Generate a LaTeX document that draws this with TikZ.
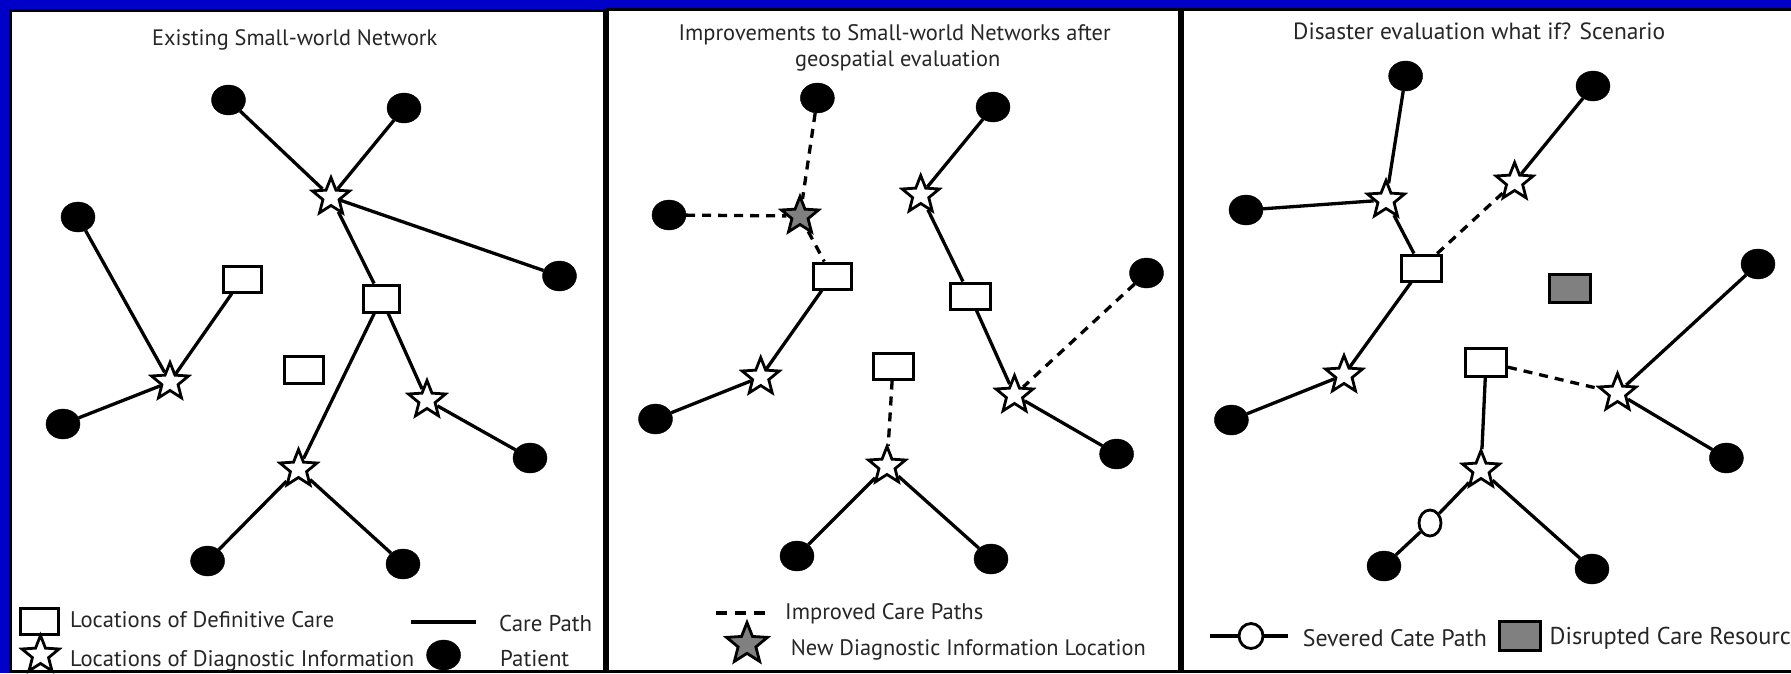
\documentclass[tikz,border=0pt]{standalone}
\usepackage{fontspec}
\setmainfont{PT Sans}
\usetikzlibrary{shapes.geometric}
\definecolor{bgblue}{RGB}{0,0,200}
\definecolor{midgray}{RGB}{128,128,128}
\newcommand{\fitto}[2]{\resizebox{#1pt}{!}{#2}}
\begin{document}
\begin{tikzpicture}[x=1pt,y=-1pt,
  patient/.style={ellipse,fill=black,draw=black,inner sep=0pt,minimum width=34pt,minimum height=30pt},
  diag/.style={star,star points=5,star point ratio=2.3,draw=black,line width=2.8pt,fill=white,inner sep=0pt,minimum size=39pt},
  newdiag/.style={diag,fill=midgray},
  care/.style={rectangle,draw=black,line width=3pt,fill=white,inner sep=0pt,minimum width=38pt,minimum height=26pt},
  disrupted/.style={care,fill=midgray},
  severed/.style={ellipse,draw=black,line width=2.8pt,fill=white,inner sep=0pt,minimum width=22pt,minimum height=26pt},
  carepath/.style={draw=black,line width=3.3pt},
  improved/.style={carepath,dash pattern=on 9pt off 7pt},
  lbl/.style={inner sep=0pt,anchor=base west,text=black!85},
  panel/.style={fill=white,draw=black,line width=3pt}]
\useasboundingbox (0,0) rectangle (1791,673);
\clip (0,0) rectangle (1791,673);
\fill[bgblue] (0,0) rectangle (1791,673);
% panels
\path[panel] (10,10) rectangle (604,671);
\path[panel] (607,9) rectangle (1179,671);
\path[panel] (1182,9) rectangle (1800,671);

% ---------------- Panel 1 ----------------
\node[lbl] (t1) at (152,45) {\fitto{285}{Existing Small-world Network}};
\node[patient] (A) at (228.5,100) {};
\node[patient] (B) at (404,108) {};
\node[diag] (S1) at (331,197) {};
\node[patient] (C) at (78,217) {};
\node[patient] (D) at (559.5,276) {};
\node[care] (R1) at (242,279) {};
\node[care,minimum width=36pt,minimum height=27pt] (R2) at (381.5,298.5) {};
\node[diag] (S2) at (170,382) {};
\node[patient] (E) at (63,424) {};
\node[care,minimum width=39pt,minimum height=27pt] (R3) at (303.5,369.5) {};
\node[diag] (S3) at (427,400) {};
\node[diag] (S4) at (298.5,469) {};
\node[patient] (F) at (530,458) {};
\node[patient] (G) at (207.6,561) {};
\node[patient] (H) at (403,564) {};
\draw[carepath] (A) -- (S1);
\draw[carepath] (B) -- (S1);
\draw[carepath] (S1) -- (D);
\draw[carepath] (S1) -- (R2);
\draw[carepath] (C) -- (S2);
\draw[carepath] (S2) -- (R1);
\draw[carepath] (S2) -- (E);
\draw[carepath] (R2) -- (S4);
\draw[carepath] (R2) -- (S3);
\draw[carepath] (S3) -- (F);
\draw[carepath] (S4) -- (G);
\draw[carepath] (S4) -- (H);
% legend 1
\node[care] (lc) at (39,621) {};
\node[lbl] (lct) at (70,627) {\fitto{264}{Locations of Definitive Care}};
\node[diag] (ld) at (40.5,655) {};
\node[lbl] (ldt) at (70,666.7) {\fitto{344}{Locations of Diagnostic Information}};
\coordinate (cp1) at (411,622);
\coordinate (cp2) at (476,622);
\draw[carepath] (cp1) -- (cp2);
\node[lbl] (cpt) at (499,631) {\fitto{93}{Care Path}};
\node[patient] (lp) at (443.6,655) {};
\node[lbl] (lpt) at (500,666.7) {\fitto{69}{Patient}};

% ---------------- Panel 2 ----------------
\node[lbl] (t2a) at (678.5,40) {\fitto{432}{Improvements to Small-world Networks after}};
\node[lbl] (t2b) at (795,66) {\fitto{205}{geospatial evaluation}};
\node[patient] (A2) at (817.4,98) {};
\node[patient] (B2) at (993,107) {};
\node[diag] (S12) at (920.7,195) {};
\node[newdiag] (N2) at (800,216) {};
\node[patient] (C2) at (669,215) {};
\node[care] (R12) at (832,276) {};
\node[care,minimum width=40pt] (R22) at (970,296) {};
\node[patient] (D2) at (1146.5,273) {};
\node[diag] (S22) at (760.7,377) {};
\node[patient] (E2) at (655.5,419) {};
\node[care,minimum width=40pt] (R32) at (893,366) {};
\node[diag] (S32) at (1014.5,395) {};
\node[patient] (F2) at (1116.6,454) {};
\node[diag] (S42) at (887,466) {};
\node[patient] (G2) at (797,556) {};
\node[patient] (H2) at (991,559) {};
\draw[improved] (A2) -- (N2);
\draw[improved] (C2) -- (N2);
\draw[improved] (N2) -- (R12);
\draw[carepath] (B2) -- (S12);
\draw[carepath] (S12) -- (R22);
\draw[carepath] (R12) -- (S22);
\draw[carepath] (S22) -- (E2);
\draw[carepath] (R22) -- (S32);
\draw[carepath] (S32) -- (F2);
\draw[improved] (D2) -- (S32);
\draw[improved] (R32) -- (S42);
\draw[carepath] (S42) -- (G2);
\draw[carepath] (S42) -- (H2);
% legend 2
\coordinate (ip1) at (716,613);
\coordinate (ip2) at (765,613);
\draw[carepath,dash pattern=on 11pt off 8pt] (ip1) -- (ip2);
\node[lbl] (ipt) at (785,619) {\fitto{198}{Improved Care Paths}};
\node[newdiag,minimum size=43pt] (ln) at (747,644) {};
\node[lbl] (lnt) at (790.6,655) {\fitto{355}{New Diagnostic Information Location}};

% ---------------- Panel 3 ----------------
\node[lbl] (t3) at (1293,39) {\fitto{372}{Disaster evaluation what if? Scenario}};
\node[patient] (A3) at (1405.6,76) {};
\node[patient] (B3) at (1593,86) {};
\node[diag] (S13) at (1386,200) {};
\node[patient] (C3) at (1246,210) {};
\node[diag] (S53) at (1514.6,182) {};
\node[care,minimum width=40pt] (R13) at (1421.5,268) {};
\node[disrupted,minimum width=41pt,minimum height=28pt] (X3) at (1570,288) {};
\node[patient] (D3) at (1758,264) {};
\node[diag] (S23) at (1344,375) {};
\node[patient] (E3) at (1231.4,420) {};
\node[care,minimum width=41pt,minimum height=28pt] (R23) at (1486,362) {};
\node[diag] (S33) at (1617.5,393) {};
\node[patient] (F3) at (1726.4,458) {};
\node[diag] (S43) at (1481,470) {};
\node[severed] (O3) at (1430,523) {};
\node[patient] (G3) at (1384,566) {};
\node[patient] (H3) at (1592,569) {};
\draw[carepath] (A3) -- (S13);
\draw[carepath] (C3) -- (S13);
\draw[carepath] (S13) -- (R13);
\draw[improved] (R13) -- (S53);
\draw[carepath] (S53) -- (B3);
\draw[carepath] (R13) -- (S23);
\draw[carepath] (S23) -- (E3);
\draw[improved] (R23) -- (S33);
\draw[carepath] (S33) -- (D3);
\draw[carepath] (S33) -- (F3);
\draw[carepath] (R23) -- (S43);
\draw[carepath] (S43) -- (O3);
\draw[carepath] (O3) -- (G3);
\draw[carepath] (S43) -- (H3);
% legend 3
\coordinate (sv1) at (1210,636);
\coordinate (sv2) at (1288,636);
\node[severed,minimum width=24pt,minimum height=25pt] (lo) at (1251,636) {};
\draw[carepath] (sv1) -- (lo);
\draw[carepath] (lo) -- (sv2);
\node[lbl] (lot) at (1302.7,646) {\fitto{184}{Severed Cate Path}};
\node[disrupted,minimum width=41pt,minimum height=29pt] (lg) at (1519.5,636) {};
\node[lbl] (lgt) at (1549.4,644) {\fitto{253}{Disrupted Care Resource}};
\end{tikzpicture}
\end{document}
